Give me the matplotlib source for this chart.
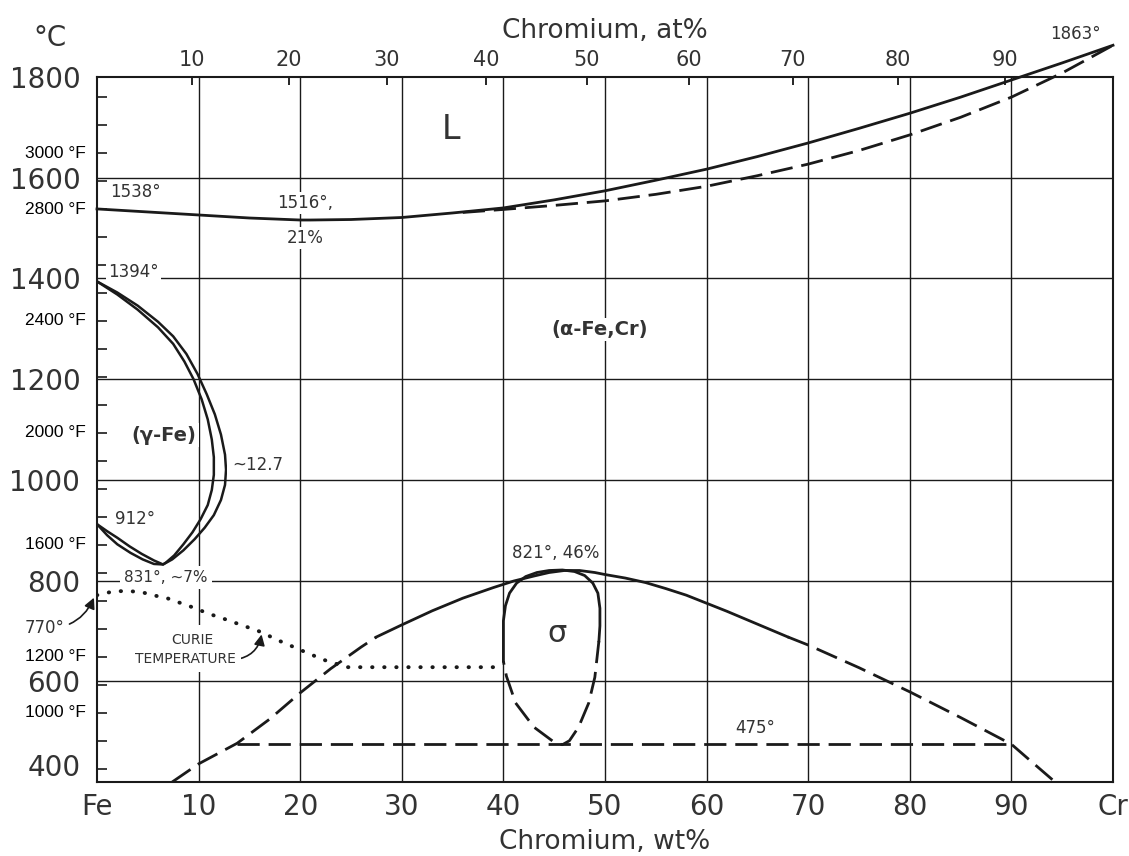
import matplotlib
matplotlib.use("Agg")
import matplotlib.pyplot as plt
import matplotlib.transforms as mtransforms
import numpy as np

plt.rcParams['font.family'] = ['DejaVu Sans']

# liquidus (solid) and solidus (dashed), wt% Cr vs deg C
liq_x = [0, 5, 10, 15, 20, 21, 25, 30, 35, 40, 45, 50, 55, 60, 65, 70, 75, 80, 85, 90, 95, 100]
liq_t = [1538, 1532, 1526, 1520, 1516, 1516, 1517, 1521, 1530, 1540, 1556, 1574, 1595, 1617,
         1642, 1669, 1698, 1728, 1760, 1794, 1828, 1863]
sol_x = [36, 40, 45, 50, 55, 60, 65, 70, 75, 80, 85, 90, 95, 100]
sol_t = [1531, 1537, 1545, 1554, 1567, 1583, 1604, 1627, 1654, 1685, 1720, 1760, 1808, 1863]

# gamma loop, outer and inner boundaries
gout_x = [0, 2.0, 4.0, 6.0, 7.5, 8.8, 9.9, 10.8, 11.6, 12.2, 12.6, 12.7, 12.6, 12.2, 11.5,
          10.6, 9.6, 8.5, 7.4, 6.5, 5.6, 4.5, 3.3, 2.0, 1.0, 0]
gout_t = [1394, 1372, 1346, 1314, 1285, 1250, 1210, 1170, 1130, 1090, 1050, 1020, 990, 960,
          930, 905, 882, 860, 842, 832, 833, 842, 855, 872, 890, 912]
gin_x = [0, 2.0, 4.0, 6.0, 7.5, 8.6, 9.5, 10.3, 10.9, 11.3, 11.5, 11.5, 11.3, 10.9, 10.2,
         9.4, 8.5, 7.6, 6.8, 6.5, 5.6, 4.4, 3.2, 2.0, 1.0, 0]
gin_t = [1394, 1368, 1338, 1303, 1270, 1235, 1200, 1160, 1120, 1080, 1045, 1010, 980, 950,
         922, 896, 872, 850, 836, 832, 840, 853, 868, 885, 898, 912]

# sigma / miscibility dome
dome_l_x = [7.4, 10, 13.8, 17, 20, 23, 26, 27.5]
dome_l_t = [400, 436, 477, 525, 577, 625, 668, 688]
dome_m_x = [27.5, 30, 33, 36, 39, 41, 43, 44.5, 46, 47.5, 49, 50, 52, 54, 56, 58, 60, 62, 64,
            66, 68]
dome_m_t = [688, 712, 740, 765, 786, 799, 809, 816, 820, 820, 816, 812, 805, 796, 784, 771,
            755, 739, 722, 705, 688]
dome_r_x = [68, 70, 75, 80, 85, 90, 92, 94.3]
dome_r_t = [688, 672, 627, 579, 528, 475, 440, 400]

# sigma phase loop
sig_s_x = [40.0, 40.0, 40.0, 40.2, 40.6, 41.3, 42.2, 43.3, 44.5, 45.8, 47.0, 48.0, 48.8, 49.3,
           49.5, 49.5, 49.4]
sig_s_t = [640, 680, 720, 750, 775, 795, 808, 816, 820, 821, 818, 810, 795, 775, 745, 710, 680]
sig_d_x = [49.4, 49.0, 48.4, 47.4, 46.5, 45.8, 45.0, 43.0, 41.2, 40.3, 40.0]
sig_d_t = [680, 608, 557, 509, 482, 474, 479, 509, 557, 610, 640]

# 475 deg line
l475_x = [13.8, 90]
l475_t = [475, 475]

# Curie temperature
curie_x = [0, 0.8, 1.8, 3.2, 4.4, 5.5, 6.9, 8.0, 9.4, 10.4, 11.6, 12.8, 13.9, 15.3, 16.4,
           17.5, 18.7, 19.8, 21.0, 22.1, 24.6, 30, 35, 40]
curie_t = [771, 775, 779, 779, 777, 771, 765, 757, 747, 739, 730, 722, 714, 704, 696,
           684, 674, 664, 654, 644, 628, 628, 628, 628]

c_ticks = [400, 600, 800, 1000, 1200, 1400, 1600, 1800]
f_labels = [3000, 2800, 2400, 2000, 1600, 1200, 1000]
f_ticks = list(range(800, 3300, 100))
wt_ticks = [0, 10, 20, 30, 40, 50, 60, 70, 80, 90, 100]
wt_labels = ['Fe', '10', '20', '30', '40', '50', '60', '70', '80', '90', 'Cr']
at_ticks = [10, 20, 30, 40, 50, 60, 70, 80, 90]


def f_to_c(f):
    return (np.asarray(f, dtype=float) - 32) * 5 / 9


def wt_to_at(w):
    w = np.asarray(w, dtype=float)
    with np.errstate(divide='ignore', invalid='ignore'):
        return (w / 52.0) / (w / 52.0 + (100 - w) / 55.85) * 100


def at_to_wt(a):
    a = np.asarray(a, dtype=float)
    with np.errstate(divide='ignore', invalid='ignore'):
        return (a * 52.0) / (a * 52.0 + (100 - a) * 55.85) * 100


ink = '#1a1a1a'
txt = '#333333'
dash = (0, (8, 3.2))

fig = plt.figure(figsize=(11.29, 8.56), dpi=100)
ax = fig.add_axes([97 / 1129, 1 - 782 / 856, 1016 / 1129, 705 / 856])
ax.set_xlim(0, 100)
ax.set_ylim(400, 1800)

# grid
for x in range(10, 100, 10):
    ax.axvline(x, color=ink, lw=1.0, zorder=1)
for t in range(600, 1800, 200):
    ax.axhline(t, color=ink, lw=1.0, zorder=1)
for s in ax.spines.values():
    s.set_linewidth(1.5)
    s.set_color(ink)

# curves
ax.plot(liq_x, liq_t, color=ink, lw=2.0, clip_on=False, zorder=4)
ax.plot(sol_x, sol_t, color=ink, lw=2.0, ls=dash, clip_on=False, zorder=4)
ax.plot(gout_x, gout_t, color=ink, lw=1.8, zorder=4)
ax.plot(gin_x, gin_t, color=ink, lw=1.8, zorder=4)
ax.plot(dome_l_x, dome_l_t, color=ink, lw=2.0, ls=dash, zorder=4)
ax.plot(dome_m_x, dome_m_t, color=ink, lw=2.0, zorder=4)
ax.plot(dome_r_x, dome_r_t, color=ink, lw=2.0, ls=dash, zorder=4)
ax.plot(sig_s_x, sig_s_t, color=ink, lw=2.0, zorder=4)
ax.plot(sig_d_x, sig_d_t, color=ink, lw=2.0, ls=dash, zorder=4)
ax.plot(l475_x, l475_t, color=ink, lw=2.0, ls=dash, zorder=4)
ax.plot(curie_x, curie_t, color=ink, lw=2.8, ls=(0, (0.1, 3.0)), dash_capstyle='round', zorder=4)

# axes ticks
ax.set_xticks(wt_ticks)
ax.set_xticklabels(wt_labels, fontsize=20, color=txt)
ax.tick_params(axis='x', length=0, pad=8)
ax.set_yticks(c_ticks)
ax.set_yticklabels([str(c) for c in c_ticks], fontsize=20, color=txt)
ax.tick_params(axis='y', which='major', length=0, pad=12)
ax.set_yticks(f_to_c(f_ticks), minor=True)
ax.tick_params(axis='y', which='minor', direction='in', length=7, width=1.2, color=ink)
for lab in ax.get_yticklabels():
    if lab.get_text() == '400':
        lab.set_va('bottom')
ax.set_xlabel('Chromium, wt%', fontsize=19, color=txt, labelpad=6)

sec = ax.secondary_xaxis('top', functions=(wt_to_at, at_to_wt))
sec.set_xticks(at_ticks)
sec.set_xticklabels([str(a) for a in at_ticks], fontsize=15, color=txt)
sec.tick_params(direction='in', length=6, width=1.2, pad=5)
sec.set_xlabel('Chromium, at%', fontsize=19, color=txt, labelpad=9)
sec.spines['top'].set_visible(False)

# deg F labels
trans = mtransforms.blended_transform_factory(ax.transAxes, ax.transData)
for f in f_labels:
    ax.text(-0.011, f_to_c(f), f'{f} °F', transform=trans, ha='right', va='center',
            fontsize=12.5, family='Liberation Sans', color='black')
ax.text(-0.046, 1.055, '°C', transform=ax.transAxes, ha='center', va='center',
        fontsize=20, color=txt)

# region and point labels
wb = dict(facecolor='white', edgecolor='none', pad=1.5)
ax.text(34.8, 1695, 'L', fontsize=24, ha='center', va='center', color=txt)
ax.text(1.3, 1572, '1538°', fontsize=12, ha='left', va='center', color=txt, bbox=wb)
ax.text(20.5, 1550, '1516°,', fontsize=12, ha='center', va='center', color=txt, bbox=wb, zorder=5)
ax.text(20.5, 1480, '21%', fontsize=12, ha='center', va='center', color=txt, bbox=wb, zorder=5)
ax.text(1.1, 1413, '1394°', fontsize=12, ha='left', va='center', color=txt, bbox=wb, zorder=5)
ax.text(49.5, 1298, '(α-Fe,Cr)', fontsize=14, ha='center', va='center', color=txt,
        weight='semibold', bbox=wb, zorder=5)
ax.text(6.6, 1089, '(γ-Fe)', fontsize=14, ha='center', va='center', color=txt,
        weight='semibold', bbox=wb, zorder=5)
ax.text(13.3, 1030, '~12.7', fontsize=12, ha='left', va='center', color=txt,
        bbox=dict(facecolor='white', edgecolor='none', pad=4), zorder=5)
ax.text(3.7, 922, '912°', fontsize=12, ha='center', va='center', color=txt)
ax.text(6.8, 806, '831°, ~7%', fontsize=11, ha='center', va='center', color=txt,
        bbox=dict(facecolor='white', edgecolor='none', pad=3), zorder=5)
ax.text(45.1, 855, '821°, 46%', fontsize=12, ha='center', va='center', color=txt,
        bbox=wb, zorder=5)
ax.text(45.3, 695, 'σ', fontsize=22, ha='center', va='center', color=txt)
ax.text(64.8, 507, '475°', fontsize=12, ha='center', va='center', color=txt)
ax.text(96.3, 1885, '1863°', fontsize=12, ha='center', va='center', color=txt, clip_on=False)
ax.text(9.4, 682, 'CURIE', fontsize=10, ha='center', va='center', color=txt,
        bbox=dict(facecolor='white', edgecolor='none', pad=6), zorder=5)
ax.text(8.7, 644, 'TEMPERATURE', fontsize=10, ha='center', va='center', color=txt,
        bbox=dict(facecolor='white', edgecolor='none', pad=4), zorder=5)

ax.annotate('770°', xy=(-0.3, 766), xytext=(-5.2, 706), fontsize=12, color=txt,
            ha='center', va='center', annotation_clip=False,
            arrowprops=dict(arrowstyle='-|>', color=ink, lw=1.2, mutation_scale=16,
                            connectionstyle='arc3,rad=0.35', shrinkA=2, shrinkB=0))
ax.annotate('', xy=(16.2, 693), xytext=(13.6, 643),
            arrowprops=dict(arrowstyle='-|>', color=ink, lw=1.2, mutation_scale=16,
                            connectionstyle='arc3,rad=0.35', shrinkA=0, shrinkB=0))

fig.savefig('out.png', dpi=100)
